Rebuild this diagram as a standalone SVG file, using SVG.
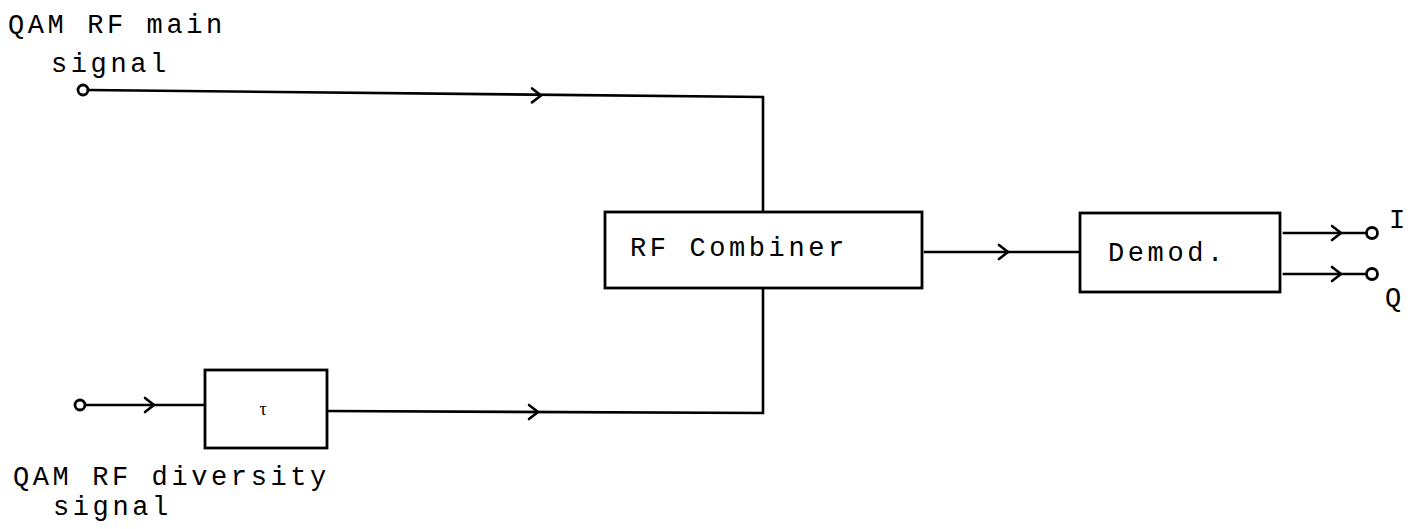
<svg xmlns="http://www.w3.org/2000/svg" width="1410" height="529" viewBox="0 0 1410 529">
  <style>
    .ln { fill: none; stroke: #000; stroke-width: 2.6; stroke-linecap: square; stroke-linejoin: miter; }
    .box { fill: #fff; stroke: #000; stroke-width: 2.8; }
    .term { fill: #fff; stroke: #000; stroke-width: 2.8; }
    .chev { fill: none; stroke: #000; stroke-width: 2.6; stroke-linecap: round; stroke-linejoin: miter; }
    .lbl { font-family: "Liberation Mono", "DejaVu Sans Mono", monospace; font-size: 27px; letter-spacing: 3.6px; fill: #000; }
  </style>
  <defs>
    <path id="chevron" class="chev" d="M -9 -7 L 0 0 L -9 7"/>
  </defs>
  <rect width="1410" height="529" fill="#fff"/>

  <!-- wiring between the blocks -->
  <g id="connectors">
    <!-- main input to combiner top -->
    <polyline class="ln" points="88,90 763,97 763,212"/>
    <use href="#chevron" transform="translate(541,95.5) rotate(0.6)"/>
    <!-- diversity input into delay -->
    <line class="ln" x1="85" y1="405" x2="205" y2="405"/>
    <use href="#chevron" transform="translate(154,405)"/>
    <!-- delay output to combiner bottom -->
    <polyline class="ln" points="327,411 763,413 763,288"/>
    <use href="#chevron" transform="translate(538,412)"/>
    <!-- combiner to demodulator -->
    <line class="ln" x1="925" y1="252" x2="1080" y2="252"/>
    <use href="#chevron" transform="translate(1008,252)"/>
    <!-- demodulator outputs -->
    <line class="ln" x1="1284" y1="233" x2="1367" y2="233"/>
    <use href="#chevron" transform="translate(1341,233)"/>
    <line class="ln" x1="1284" y1="274" x2="1367" y2="274"/>
    <use href="#chevron" transform="translate(1341,274)"/>
  </g>

  <g id="in-main">
    <circle class="term" cx="83" cy="90" r="5"/>
    <text class="lbl" x="8" y="33">QAM RF main</text>
    <text class="lbl" x="51" y="72">signal</text>
  </g>

  <g id="in-diversity">
    <circle class="term" cx="80" cy="405" r="5"/>
    <text class="lbl" x="13" y="485">QAM RF diversity</text>
    <text class="lbl" x="53" y="515">signal</text>
  </g>

  <g id="delay">
    <rect class="box" x="205" y="370" width="122" height="78"/>
    <text x="263" y="415" font-family="'Liberation Serif', serif" font-size="18" fill="#000" text-anchor="middle">τ</text>
  </g>

  <g id="combiner">
    <rect class="box" x="605" y="212" width="317" height="76"/>
    <text class="lbl" x="630" y="256">RF Combiner</text>
  </g>

  <g id="demod">
    <rect class="box" x="1080" y="213" width="200" height="79"/>
    <text class="lbl" x="1108" y="261">Demod.</text>
  </g>

  <g id="out-i">
    <circle class="term" cx="1372" cy="233" r="5.5"/>
    <text class="lbl" x="1389" y="228">I</text>
  </g>

  <g id="out-q">
    <circle class="term" cx="1372" cy="274" r="5.5"/>
    <text class="lbl" x="1385" y="306">Q</text>
  </g>
</svg>
